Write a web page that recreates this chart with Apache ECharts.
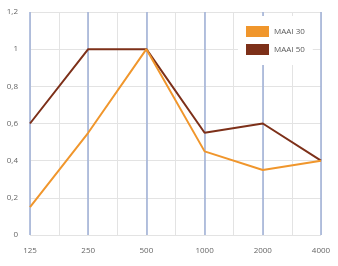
<!DOCTYPE html>
<html><head><meta charset="utf-8">
<script src="https://cdn.jsdelivr.net/npm/echarts@6/dist/echarts.min.js"></script>
<style>html,body{margin:0;padding:0;background:#fff}#c{width:338px;height:266px}</style>
</head><body><div id="c"></div>
<script>
const categories = ['125','250','500','1000','2000','4000'];
const maai30 = [0.15, 0.55, 1.0, 0.45, 0.35, 0.4];
const maai50 = [0.6, 1.0, 1.0, 0.55, 0.6, 0.4];
const chart = echarts.init(document.getElementById('c'));
chart.setOption({
  animation: false,
  textStyle: {fontFamily: 'Open Sans'},
  grid: {left: 30, right: 17, top: 12, bottom: 31},
  legend: {
    orient: 'vertical', left: 238, top: 16, padding: [10, 8],
    backgroundColor: '#fff', icon: 'rect', itemWidth: 23, itemHeight: 11, itemGap: 7,
    textStyle: {fontSize: 8, color: '#595959'},
    data: ['MAAI 30', 'MAAI 50']
  },
  xAxis: [
    {type: 'category', data: categories, boundaryGap: false, z: 3,
     axisLine: {show: false}, axisTick: {show: false},
     axisLabel: {fontSize: 8, color: '#666', margin: 12},
     splitLine: {show: true, lineStyle: {color: '#A3B3D8', width: 1.6}}},
    {type: 'value', min: 0, max: 10, interval: 1, show: true, position: 'bottom', z: 1,
     axisLine: {show: false}, axisTick: {show: false}, axisLabel: {show: false},
     splitLine: {show: true, lineStyle: {color: '#E3E3E3', width: 1}}}
  ],
  yAxis: {type: 'value', min: 0, max: 1.2, interval: 0.2,
    axisLine: {show: false}, axisTick: {show: false},
    axisLabel: {fontSize: 8, color: '#666', margin: 12, formatter: v => String(Math.round(v*10)/10).replace('.', ',')},
    splitLine: {lineStyle: {color: '#E3E3E3', width: 1}}},
  series: [
    {name: 'MAAI 30', type: 'line', data: maai30, showSymbol: false, z: 5,
     itemStyle: {color: '#F0962C'}, lineStyle: {color: '#F0962C', width: 2}},
    {name: 'MAAI 50', type: 'line', data: maai50, showSymbol: false, z: 4,
     itemStyle: {color: '#7D3019'}, lineStyle: {color: '#7D3019', width: 2}}
  ]
});
</script></body></html>
